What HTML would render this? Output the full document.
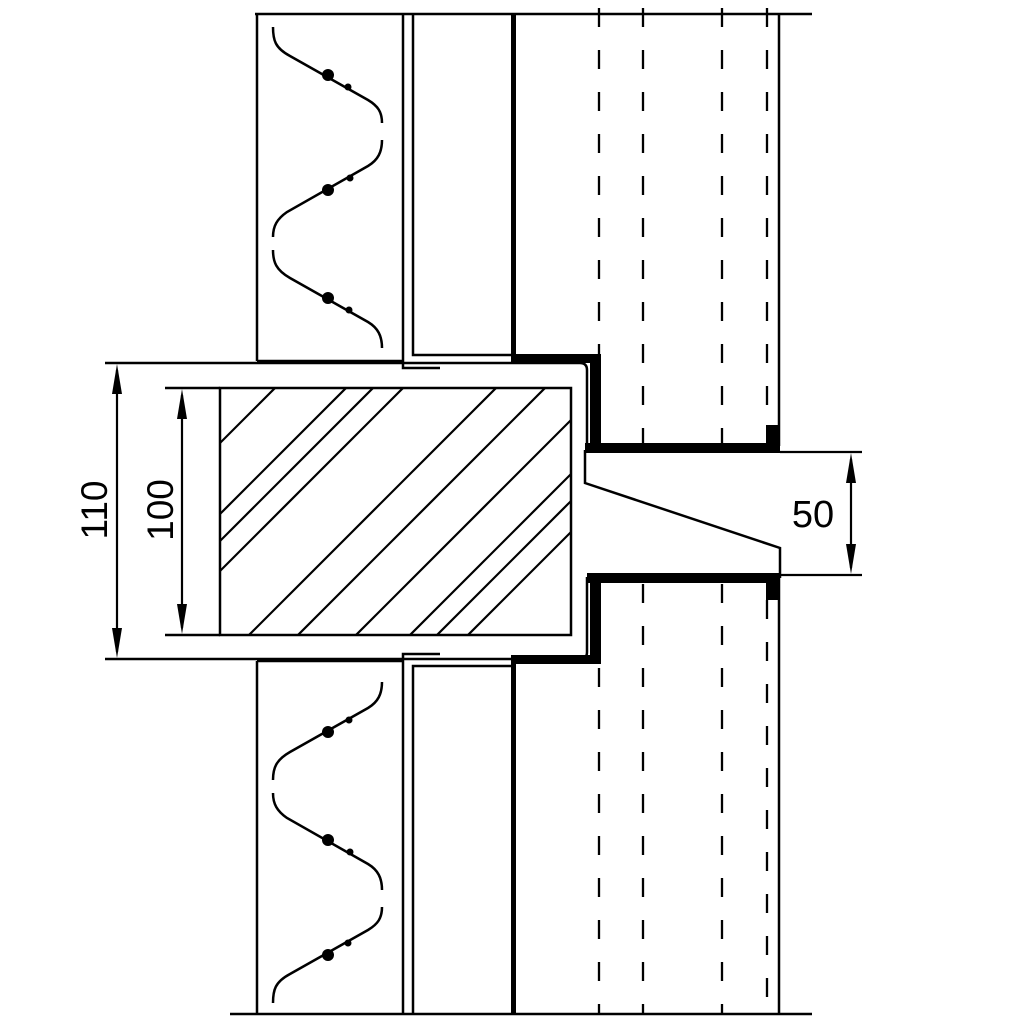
<!DOCTYPE html>
<html><head><meta charset="utf-8"><style>
html,body{margin:0;padding:0;background:#fff;}
svg{display:block;}
text{font-family:"Liberation Sans",sans-serif;fill:#000;}
</style></head><body>
<svg width="1024" height="1024" viewBox="0 0 1024 1024" xmlns="http://www.w3.org/2000/svg">
<defs>
<clipPath id="hc"><rect x="221" y="389" width="349" height="245"/></clipPath>
<g id="sq" fill="none" stroke="#000" stroke-width="2.5">
<path d="M273,27 C273,40 275,48 290,56 L368,100 C378,106 382,112 382,123"/>
<path d="M382,140 C382,152 378,160 368,166 L287,212 C277,219 273,226 273,237"/>
<path d="M273,250 C273,262 276,270 290,278 L368,322 C378,328 382,336 382,348"/>
</g>
<g id="dots" fill="#000">
<circle cx="328" cy="75" r="6"/><circle cx="348" cy="87" r="3.5"/>
<circle cx="328" cy="190" r="6"/><circle cx="350" cy="178" r="3.5"/>
<circle cx="328" cy="298" r="6"/><circle cx="349" cy="310" r="3.5"/>
</g>
</defs>
<rect width="1024" height="1024" fill="#fff"/>
<g stroke="#000" fill="none" stroke-width="2.5">
<line x1="255" y1="14" x2="812" y2="14"/>
<line x1="230" y1="1014" x2="812" y2="1014"/>
<line x1="257" y1="14" x2="257" y2="361"/>
<line x1="257" y1="361" x2="403" y2="361"/>
<line x1="257" y1="661" x2="257" y2="1014"/>
<line x1="257" y1="661" x2="403" y2="661"/>
<polyline points="403,14 403,368 440,368"/>
<polyline points="413,14 413,355 513,355"/>
<polyline points="403,1014 403,654 440,654"/>
<polyline points="413,1014 413,666 513,666"/>
<path d="M105,363 H580 Q587,363 587,370 V447"/>
<path d="M105,659 H580 Q587,659 587,652 V577"/>
<rect x="220" y="388" width="351" height="247"/>
<line x1="165" y1="388" x2="220" y2="388"/>
<line x1="165" y1="635" x2="220" y2="635"/>
<polyline points="585,450 585,483 780,548 780,578"/>
<line x1="779" y1="14" x2="779" y2="446"/>
<line x1="779" y1="576" x2="779" y2="1014"/>
</g>
<g clip-path="url(#hc)" stroke="#000" stroke-width="2.2">
<line x1="-137" y1="800" x2="563" y2="100"/>
<line x1="-66" y1="800" x2="634" y2="100"/>
<line x1="-39" y1="800" x2="661" y2="100"/>
<line x1="-9" y1="800" x2="691" y2="100"/>
<line x1="84" y1="800" x2="784" y2="100"/>
<line x1="133" y1="800" x2="833" y2="100"/>
<line x1="191" y1="800" x2="891" y2="100"/>
<line x1="245" y1="800" x2="945" y2="100"/>
<line x1="272" y1="800" x2="972" y2="100"/>
<line x1="303" y1="800" x2="1003" y2="100"/>
</g>
<g fill="#000">
<rect x="511" y="14" width="5" height="345"/>
<rect x="511" y="354" width="90" height="9"/>
<rect x="590" y="354" width="11" height="98"/>
<rect x="585" y="443" width="195" height="10"/>
<rect x="766" y="425" width="14" height="28"/>
<rect x="511" y="663" width="5" height="351"/>
<rect x="511" y="655" width="90" height="9"/>
<rect x="590" y="573" width="11" height="91"/>
<rect x="587" y="573" width="193" height="10"/>
<rect x="766" y="573" width="14" height="27"/>
</g>
<g stroke="#000" stroke-width="2.3" stroke-dasharray="19 23">
<line x1="599" y1="8" x2="599" y2="443"/>
<line x1="643" y1="8" x2="643" y2="443"/>
<line x1="722" y1="8" x2="722" y2="443"/>
<line x1="767" y1="8" x2="767" y2="425"/>
<line x1="599" y1="584" x2="599" y2="1014"/>
<line x1="643" y1="584" x2="643" y2="1014"/>
<line x1="722" y1="584" x2="722" y2="1014"/>
<line x1="767" y1="600" x2="767" y2="1014"/>
</g>
<use href="#sq"/><use href="#dots"/>
<g transform="matrix(1,0,0,-1,0,1030)"><use href="#sq"/><use href="#dots"/></g>
<g stroke="#000" stroke-width="2.2">
<line x1="117" y1="370" x2="117" y2="652"/>
<line x1="182" y1="395" x2="182" y2="628"/>
<line x1="780" y1="452" x2="862" y2="452"/>
<line x1="780" y1="575" x2="862" y2="575"/>
<line x1="851" y1="459" x2="851" y2="568"/>
</g>
<g fill="#000">
<polygon points="117,364 112,394 122,394"/>
<polygon points="117,658 112,628 122,628"/>
<polygon points="182,389 177,419 187,419"/>
<polygon points="182,634 177,604 187,604"/>
<polygon points="851,453 846,483 856,483"/>
<polygon points="851,574 846,544 856,544"/>
</g>
<text x="0" y="0" font-size="37" text-anchor="middle" transform="translate(107,510) rotate(-90)">110</text>
<text x="0" y="0" font-size="37" text-anchor="middle" transform="translate(173,510) rotate(-90)">100</text>
<text x="813" y="527" font-size="38" text-anchor="middle">50</text>
</svg>
</body></html>
